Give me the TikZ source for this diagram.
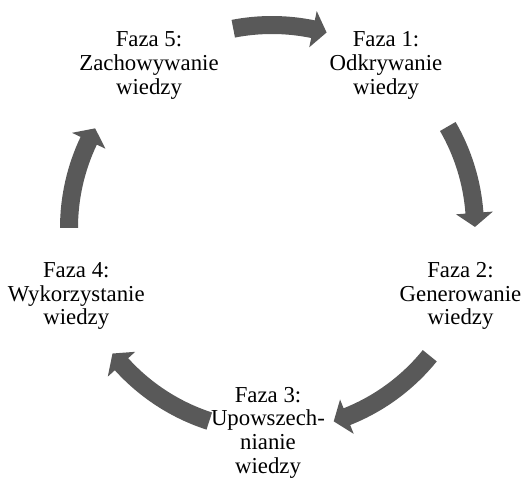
\documentclass[tikz,border=0pt]{standalone}
\usepackage{fontspec}
\setmainfont{Liberation Serif}
\definecolor{arrowgray}{RGB}{89,89,89}
\newcommand{\cycarrow}[2]{% #1 tail angle, #2 tip angle (clockwise)
  \fill[arrowfill] (#1:212pt) arc[start angle=#1, end angle=#2+3.95, radius=212pt]
    -- (#2+3.95:221.5pt) -- (#2:203pt) -- (#2+3.95:184.5pt) -- (#2+3.95:194pt)
    arc[start angle=#2+3.95, end angle=#1, radius=194pt] -- cycle;}
\begin{document}
\begin{tikzpicture}[x=1pt,y=1pt,
  arrowfill/.style={fill=arrowgray},
  phase/.style={align=center, inner sep=0pt, font=\fontsize{22.8}{23.8}\selectfont}]
\useasboundingbox (0,0) rectangle (531,479);
\coordinate (c) at (272,251);
\node[phase] (f1) at (386,413.7) {Faza 1:\\Odkrywanie\\wiedzy};
\node[phase] (f2) at (460.5,183) {Faza 2:\\Generowanie\\wiedzy};
\node[phase] (f3) at (268,46.2) {Faza 3:\\Upowszech-\\nianie\\wiedzy};
\node[phase] (f4) at (76.3,183) {Faza 4:\\Wykorzystanie\\wiedzy};
\node[phase] (f5) at (149,413.7) {Faza 5:\\Zachowywanie\\wiedzy};
\begin{scope}[shift={(c)}]
  \cycarrow{101}{74.4}
  \cycarrow{30}{0.3}
  \cycarrow{-39}{-72.3}
  \cycarrow{-108}{-141.8}
  \cycarrow{180}{150.6}
\end{scope}
\end{tikzpicture}
\end{document}
